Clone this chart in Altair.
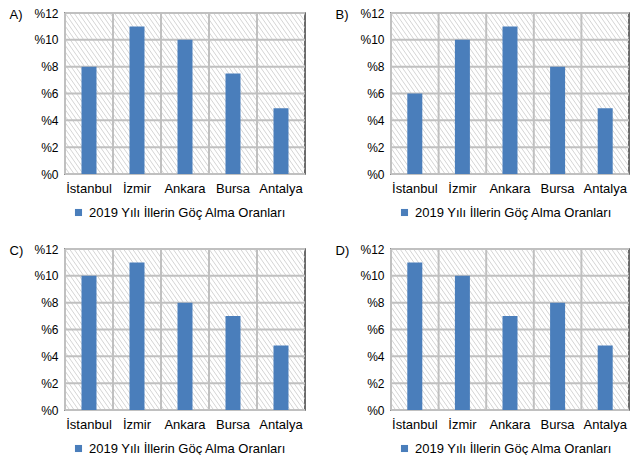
import altair as alt
import pandas as pd
import numpy as np

cities = ["İstanbul", "İzmir", "Ankara", "Bursa", "Antalya"]
values_a = [8, 11, 10, 7.5, 4.9]
values_b = [6, 10, 11, 8, 4.9]
values_c = [10, 11, 8, 7, 4.8]
values_d = [11, 10, 7, 8, 4.8]
panel_labels = ["A)", "B)", "C)", "D)"]
y_ticks = [0, 2, 4, 6, 8, 10, 12]
series_name = "2019 Yılı İllerin Göç Alma Oranları"

FONT = "Liberation Sans"
BAR = "#4A7EBB"
GRID = "#c0c0c0"
HATCH = "#c6c6c6"
H = 161


def hatch_df(w, h, spacing=4.5, ratio=0.7):
    n0 = -int(np.ceil(h * ratio / spacing)) - 1
    n1 = int(np.ceil(w / spacing)) + 1
    xs = np.arange(n0, n1) * spacing
    return pd.DataFrame({"x0": xs, "x1": xs + h * ratio, "y0": h, "y1": 0})


def panel(label, values, w):
    df = pd.DataFrame({"city": cities, "value": values, "series": series_name})
    xscale = alt.Scale(type="band", domain=cities, paddingInner=0, paddingOuter=0)
    yscale = alt.Scale(domain=[0, 12], nice=False)

    hatch = alt.Chart(hatch_df(w, H)).mark_rule(
        clip=True, color=HATCH, strokeWidth=0.75
    ).encode(
        x=alt.X("x0:Q", scale=alt.Scale(domain=[0, w], nice=False, zero=False), axis=None),
        x2="x1:Q",
        y=alt.Y("y0:Q", scale=alt.Scale(domain=[0, H], nice=False, zero=False), axis=None),
        y2="y1:Q",
    )

    hgrid = alt.Chart(pd.DataFrame({"v": y_ticks})).mark_rule(
        color=GRID, strokeWidth=2
    ).encode(y=alt.Y("v:Q", scale=yscale, axis=None))

    vgrid = alt.Chart(df).mark_rule(color=GRID, strokeWidth=2).encode(
        x=alt.X("city:N", scale=xscale, bandPosition=0, axis=None)
    )

    bars = alt.Chart(df).mark_bar(size=15).encode(
        x=alt.X(
            "city:N",
            scale=xscale,
            sort=cities,
            axis=alt.Axis(
                title=None, labelAngle=0, domain=False, ticks=False,
                labelPadding=8, labelFontSize=13, labelFont=FONT, labelColor="#000",
            ),
        ),
        y=alt.Y(
            "value:Q",
            scale=yscale,
            axis=alt.Axis(
                values=y_ticks, labelExpr="'%' + datum.value", grid=False,
                domain=False, ticks=False, labelPadding=7, labelFontSize=12,
                labelFont=FONT, labelColor="#000",
                title=label, titleAngle=0, titleX=-56, titleY=1,
                titleAlign="left", titleBaseline="middle", titleFontSize=13,
                titleFontWeight="normal", titleFont=FONT, titleColor="#000",
            ),
        ),
        color=alt.Color(
            "series:N",
            scale=alt.Scale(range=[BAR]),
            legend=alt.Legend(
                title=None, orient="none", legendX=7, legendY=193,
                symbolType="square", symbolSize=50, symbolStrokeWidth=0,
                labelFontSize=13, labelFont=FONT, labelColor="#000", labelOffset=4,
                labelLimit=0, padding=0,
            ),
        ),
    )

    return alt.layer(hatch, hgrid, vgrid, bars).resolve_scale(
        x="independent", y="independent"
    ).properties(width=w, height=H)


row1 = alt.hconcat(
    panel(panel_labels[0], values_a, 240), panel(panel_labels[1], values_b, 238), spacing=27
).resolve_scale(color="independent")
row2 = alt.hconcat(
    panel(panel_labels[2], values_c, 240), panel(panel_labels[3], values_d, 238), spacing=27
).resolve_scale(color="independent")
chart = alt.vconcat(row1, row2, spacing=21).resolve_scale(color="independent").properties(
    padding={"left": 0, "top": -2, "right": 0, "bottom": 0}
).configure_view(stroke="#3a3a3a", strokeWidth=1.5)

chart.save("out.html", embed_options={"renderer": "svg", "actions": False})
